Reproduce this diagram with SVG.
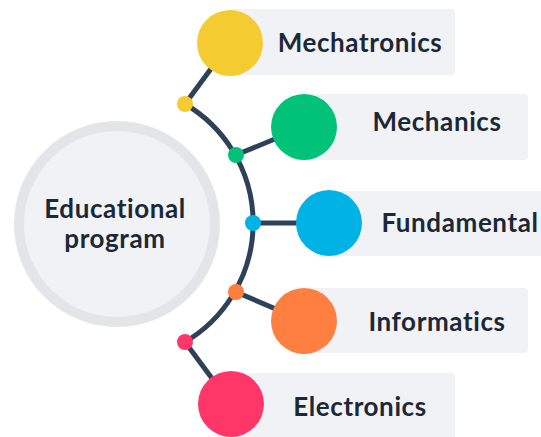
<svg xmlns="http://www.w3.org/2000/svg" width="541" height="437" viewBox="0 0 541 437">
  <style>
    .lbl { font-family: Lato, "Open Sans", "Liberation Sans", sans-serif; font-weight: 700; font-size: 26px; letter-spacing: 0.6px; fill: #1c2836; text-anchor: middle; }
    .card { fill: #f0f2f5; }
    .link { stroke: #2e4257; stroke-width: 5; fill: none; stroke-linecap: round; }
  </style>
  <rect width="541" height="437" fill="#ffffff"/>

  <!-- label cards -->
  <g id="cards">
    <rect class="card" x="230" y="9" width="225" height="66" rx="4"/>
    <rect class="card" x="304" y="94" width="224" height="66" rx="4"/>
    <rect class="card" x="329" y="191" width="216" height="65" rx="4"/>
    <rect class="card" x="304" y="288" width="224" height="65" rx="4"/>
    <rect class="card" x="231" y="373" width="224" height="66" rx="4"/>
  </g>

  <!-- connectors -->
  <g id="connectors">
    <path class="link" d="M185,104 A138,138 0 0 1 185,342"/>
    <line class="link" x1="185" y1="104" x2="230" y2="43"/>
    <line class="link" x1="236" y1="155" x2="304" y2="127"/>
    <line class="link" x1="253" y1="223" x2="329" y2="223"/>
    <line class="link" x1="236" y1="292" x2="304" y2="321"/>
    <line class="link" x1="185" y1="342" x2="231" y2="404"/>
  </g>

  <g id="center">
    <circle cx="117" cy="224" r="98" fill="#f0f2f5" stroke="#e4e5e8" stroke-width="10"/>
    <text class="lbl" x="115" y="218">Educational</text>
    <text class="lbl" x="115" y="248">program</text>
  </g>

  <g id="mechatronics">
    <circle cx="185" cy="104" r="8" fill="#f5cb32"/>
    <circle cx="230" cy="43" r="33" fill="#f5cb32"/>
    <text class="lbl" x="360" y="52">Mechatronics</text>
  </g>

  <g id="mechanics">
    <circle cx="236" cy="155" r="8" fill="#00c279"/>
    <circle cx="304" cy="127" r="33" fill="#00c279"/>
    <text class="lbl" x="437" y="131">Mechanics</text>
  </g>

  <g id="fundamental">
    <circle cx="253" cy="223" r="8" fill="#00b2e5"/>
    <circle cx="329" cy="223" r="33" fill="#00b2e5"/>
    <text class="lbl" x="460" y="232">Fundamental</text>
  </g>

  <g id="informatics">
    <circle cx="236" cy="292" r="8" fill="#ff7f40"/>
    <circle cx="304" cy="321" r="33" fill="#ff7f40"/>
    <text class="lbl" x="437" y="331">Informatics</text>
  </g>

  <g id="electronics">
    <circle cx="185" cy="342" r="8" fill="#ff3768"/>
    <circle cx="231" cy="404" r="33" fill="#ff3768"/>
    <text class="lbl" x="360" y="416">Electronics</text>
  </g>
</svg>
